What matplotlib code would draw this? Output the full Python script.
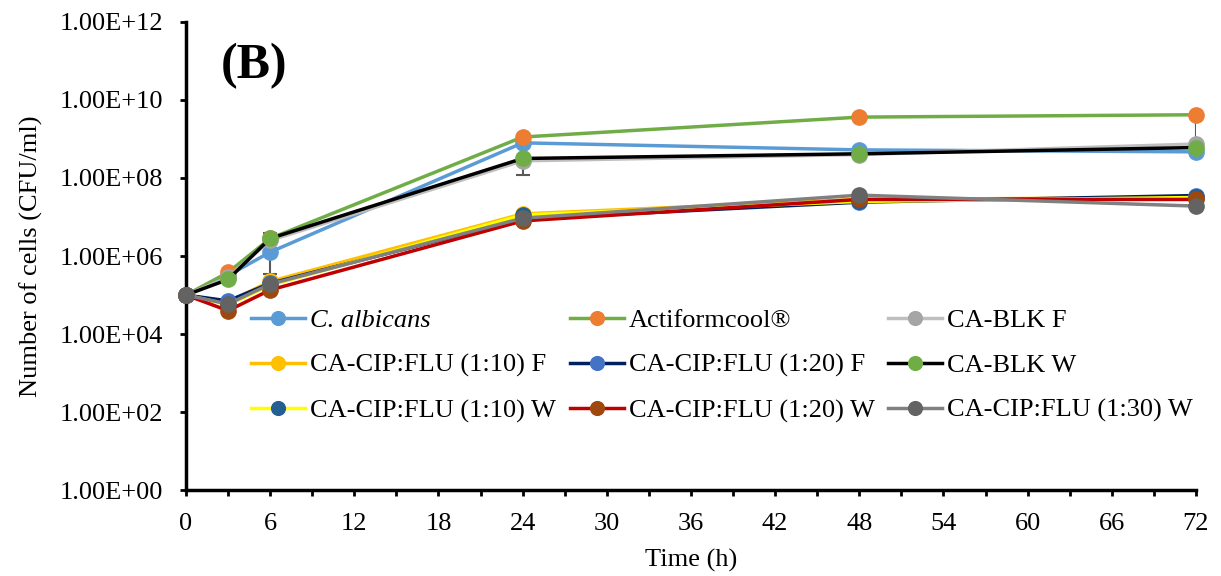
import numpy as np
import matplotlib
matplotlib.use("Agg")
import matplotlib.pyplot as plt
from matplotlib.ticker import FixedLocator, FuncFormatter, MultipleLocator

plt.rcParams['font.family'] = ['Liberation Serif', 'DejaVu Serif']

hours = [0, 3, 6, 24, 48, 72]

# log10(CFU/ml)
series = [
    ("C. albicans",          [5.0, 5.5, 6.1, 8.9, 8.72, 8.67]),
    ("Actiformcool®",        [5.0, 5.58, 6.45, 9.05, 9.56, 9.62]),
    ("CA-BLK F",             [5.0, 5.45, 6.4, 8.44, 8.6, 8.87]),
    ("CA-CIP:FLU (1:10) F",  [5.0, 4.82, 5.35, 7.08, 7.45, 7.5]),
    ("CA-CIP:FLU (1:20) F",  [5.0, 4.85, 5.3, 6.95, 7.38, 7.55]),
    ("CA-BLK W",             [5.0, 5.4, 6.45, 8.5, 8.62, 8.78]),
    ("CA-CIP:FLU (1:10) W",  [5.0, 4.75, 5.25, 7.05, 7.4, 7.5]),
    ("CA-CIP:FLU (1:20) W",  [5.0, 4.6, 5.13, 6.9, 7.45, 7.45]),
    ("CA-CIP:FLU (1:30) W",  [5.0, 4.77, 5.28, 6.97, 7.56, 7.28]),
]
line_colors = ["#5B9BD5", "#70AD47", "#BFBFBF", "#FFC000", "#002060",
               "#000000", "#FFFF00", "#C00000", "#808080"]
marker_colors = ["#5B9BD5", "#ED7D31", "#A5A5A5", "#FFC000", "#4472C4",
                 "#70AD47", "#255E91", "#9E480E", "#636363"]

# a few visible error bars: (hour index, lower log, upper log)
err_bars = [(2, 5.55, 6.6), (3, 8.08, 8.5), (5, 8.87, 9.62)]

fig, ax = plt.subplots(figsize=(12.21, 5.76), dpi=100)
fig.subplots_adjust(left=0.1523, right=0.9795, top=0.962, bottom=0.149)

handles = []
for (name, vals), lc, mc in zip(series, line_colors, marker_colors):
    h, = ax.plot(hours, [10 ** v for v in vals], color=lc, lw=2.5,
                 marker='o', ms=11, mfc=mc, mec=mc, label=name, zorder=3,
                 clip_on=False)
    handles.append(h)

for hi, lo, up in err_bars:
    x = hours[hi]
    ax.vlines(x, 10 ** lo, 10 ** up, color="#595959", lw=1.5, zorder=2)
    ax.hlines([10 ** lo, 10 ** up], x - 0.5, x + 0.5, color="#595959", lw=1.5, zorder=2)

ax.set_yscale('log')
ax.set_ylim(1, 1e12)
ax.set_xlim(0, 72)
ax.yaxis.set_major_locator(FixedLocator([10.0 ** k for k in range(0, 13, 2)]))
ax.yaxis.set_minor_locator(FixedLocator([]))
ax.yaxis.set_major_formatter(FuncFormatter(lambda v, p: "1.00E+%02d" % round(np.log10(v))))
ax.xaxis.set_major_locator(MultipleLocator(6))
ax.xaxis.set_minor_locator(MultipleLocator(3))

for s in ['top', 'right']:
    ax.spines[s].set_visible(False)
for s in ['left', 'bottom']:
    ax.spines[s].set_linewidth(2.5)
ax.tick_params(axis='both', which='both', direction='out', width=2, length=4.5,
               labelsize=19, pad=12)

ax.set_xlabel("Time (h)", fontsize=19, labelpad=10)
ax.set_ylabel("Number of cells (CFU/ml)", fontsize=19, labelpad=12)

ax.text(0.034, 0.955, "(B)", transform=ax.transAxes, fontsize=36,
        fontweight='bold', va='top')

# legend is filled row by row in the reference
order = [0, 3, 6, 1, 4, 7, 2, 5, 8]
leg = ax.legend([handles[i] for i in order], [series[i][0] for i in order],
                loc='center left', bbox_to_anchor=(0.041, 0.266), ncol=3,
                frameon=False, fontsize=19, handlelength=2.05,
                columnspacing=0.5, labelspacing=0.82, handletextpad=0.2,
                markerscale=0.9)
leg.get_texts()[0].set_fontstyle('italic')

fig.savefig("out.png", dpi=100)
